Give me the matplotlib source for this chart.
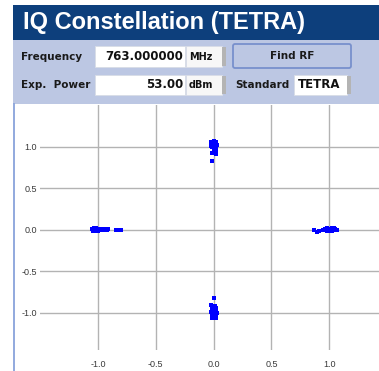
import matplotlib
matplotlib.use("Agg")
import matplotlib.pyplot as plt
from matplotlib.patches import Rectangle, FancyBboxPatch

# constellation samples (I, Q) per symbol cluster
left_i = [-1.05, -1.04, -1.03, -1.02, -1.01, -1.00, -0.99, -0.98, -1.04, -1.02,
          -1.00, -0.97, -0.96, -0.95, -0.94, -0.93, -0.92, -0.91, -0.84, -0.82, -0.80]
left_q = [0.01, -0.01, 0.02, 0.00, -0.02, 0.01, -0.01, 0.00, -0.02, 0.02,
          -0.02, 0.01, -0.01, 0.00, 0.01, -0.01, 0.00, 0.01, 0.00, 0.00, 0.00]

top_i = [-0.02, 0.00, 0.02, -0.01, 0.01, 0.03, -0.02, 0.00, 0.02, -0.01,
         0.01, 0.02, 0.00, 0.01, -0.01, 0.02, 0.00, -0.01]
top_q = [1.06, 1.07, 1.05, 1.04, 1.03, 1.02, 1.01, 1.00, 1.00, 0.99,
         0.98, 0.96, 0.95, 0.93, 0.92, 0.91, 0.97, 0.83]

bot_i = [0.00, -0.02, 0.01, 0.02, -0.01, 0.00, 0.02, -0.02, 0.01, 0.03,
         -0.01, 0.00, 0.02, 0.01, -0.01, 0.02, 0.00]
bot_q = [-0.82, -0.91, -0.92, -0.94, -0.95, -0.97, -0.98, -0.99, -1.00, -1.01,
         -1.02, -1.03, -1.04, -1.05, -1.06, -1.07, -1.06]

right_i = [0.87, 0.89, 0.91, 0.95, 0.96, 0.97, 0.98, 0.99, 1.00, 1.01,
           1.02, 1.03, 1.04, 1.05, 1.06, 1.07, 0.98, 1.02, 1.04]
right_q = [-0.01, -0.03, -0.02, 0.00, 0.01, -0.01, 0.02, 0.00, -0.02, 0.01,
           0.02, -0.01, 0.00, 0.01, -0.01, 0.00, -0.02, -0.02, 0.02]

ticks = [-1.0, -0.5, 0.0, 0.5, 1.0]

W, H = 379, 371
fig = plt.figure(figsize=(W / 100, H / 100), dpi=100)

# header panel drawn in pixel coordinates
bg = fig.add_axes([0, 0, 1, 1])
bg.set_xlim(0, W)
bg.set_ylim(H, 0)
bg.axis("off")

navy = "#0d3f7c"
panel = "#bcc7e3"
bg.add_patch(Rectangle((13, 5), W - 13, 35, color=navy, lw=0))
bg.add_patch(Rectangle((13, 40), W - 13, 64, color=panel, lw=0))
bg.plot([14, 14], [104, H], color="#7f9bd8", lw=1.2)
bg.text(23, 23, "IQ Constellation (TETRA)", color="white", fontsize=17,
        fontweight="bold", family="Liberation Sans", va="center", ha="left")

lab = dict(fontsize=7.5, fontweight="bold", family="DejaVu Sans", color="#1a1a1a", va="center")
val = dict(fontsize=8.5, fontweight="bold", family="DejaVu Sans", color="#111111", va="center")
unit = dict(fontsize=7, fontweight="bold", family="DejaVu Sans", color="#111111", va="center")


def field(x0, x1, y0, y1, fill="white"):
    bg.add_patch(Rectangle((x0, y0), x1 - x0, y1 - y0, facecolor=fill, edgecolor="#d8dce6", lw=0.6))


def shade(x0, y0, y1):
    bg.add_patch(Rectangle((x0, y0), 4, y1 - y0, facecolor="#b4b4b4", edgecolor="none"))


# row 1
bg.text(21, 57, "Frequency", **lab)
field(95, 185, 46, 67)
bg.text(183, 57, "763.000000", ha="right", **val)
field(186, 222, 46, 67, fill="#f7f7f7")
shade(222, 47, 66)
bg.text(189, 57, "MHz", **unit)
bg.add_patch(FancyBboxPatch((233, 44), 118, 24, boxstyle="round,pad=0,rounding_size=2",
                            facecolor=panel, edgecolor="#7890cc", lw=1.3))
bg.text(292, 56, "Find RF", ha="center", **lab)

# row 2
bg.text(21, 85, "Exp.  Power", **lab)
field(95, 185, 75, 95)
bg.text(183, 85, "53.00", ha="right", **val)
field(186, 222, 75, 95, fill="#f7f7f7")
shade(222, 76, 94)
bg.text(189, 85, "dBm", **unit)
bg.text(235, 85, "Standard", **lab)
field(294, 347, 75, 95)
shade(347, 76, 94)
bg.text(298, 85, "TETRA", **val)

# IQ plot
ax = fig.add_axes([40 / W, (H - 350) / H, (W - 40) / W, (350 - 105) / H])
ax.set_facecolor("none")
for s in ax.spines.values():
    s.set_visible(False)
ax.set_xlim(-1.5, 1.43)
ax.set_ylim(-1.45, 1.5)
ax.set_xticks(ticks)
ax.set_yticks(ticks)
ax.set_xticklabels([f"{t:.1f}" for t in ticks])
ax.set_yticklabels([f"{t:.1f}" for t in ticks])
ax.tick_params(length=0, labelsize=6.5, labelcolor="#3a3a3a", pad=2)
ax.tick_params(axis="x", pad=7)
for lbl in ax.get_xticklabels() + ax.get_yticklabels():
    lbl.set_family("Liberation Sans")
ax.grid(True, color="#b3b3b3", lw=1.0)
ax.set_axisbelow(True)

for xs, ys in [(left_i, left_q), (top_i, top_q), (bot_i, bot_q), (right_i, right_q)]:
    ax.scatter(xs, ys, s=6, marker="s", color="#0000ff", lw=0)

fig.savefig("out.png", dpi=100)
